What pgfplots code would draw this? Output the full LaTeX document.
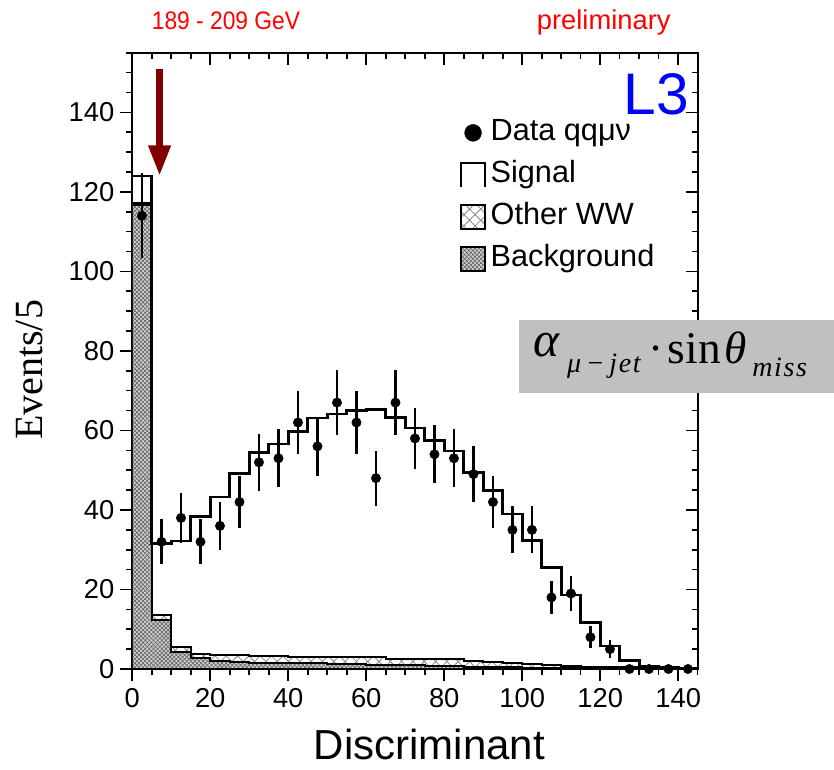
\documentclass[border=0pt]{standalone}
\usepackage{fontspec}
\setmainfont{Liberation Sans}
\newfontfamily\seriffont{Liberation Serif}
\newfontfamily\serifspaced[LetterSpace=6]{Liberation Serif}
\usepackage{pgfplots}
\pgfplotsset{compat=1.18}
\usepackage{pgfplotstable}
\usetikzlibrary{patterns.meta,arrows.meta}

\definecolor{darkred}{RGB}{128,0,0}
\definecolor{boxgray}{RGB}{192,192,192}

% stacked totals, bin left edges (width 5), last row closes the histogram
\pgfplotstableread{
x y
0 124
5 31.6
10 32.2
15 38.3
20 43.3
25 49.1
30 54.4
35 56.6
40 59.8
45 63.1
50 64.1
55 65.0
60 65.2
65 63.3
70 60.6
75 57.5
80 54.8
85 49.4
90 44.9
95 39.0
100 32.3
105 25.6
110 18.6
115 11.7
120 5.8
125 2.1
130 0.6
135 0.3
140 0.2
145 0.2
}\signaltab

\pgfplotstableread{
x y
0 117.3
5 13.6
10 5.5
15 3.9
20 3.4
25 3.4
30 3.2
35 3.2
40 2.9
45 2.9
50 2.9
55 2.9
60 3.0
65 2.5
70 2.5
75 2.5
80 2.5
85 1.9
90 1.8
95 1.6
100 1.3
105 1.0
110 0.8
115 0.6
120 0.5
125 0.4
130 0.3
135 0.2
140 0.2
145 0.2
}\otherwwtab

\pgfplotstableread{
x y
0 116.6
5 12.3
10 4.4
15 2.7
20 1.9
25 1.8
30 1.6
35 1.5
40 1.4
45 1.4
50 1.3
55 1.2
60 1.1
65 1.0
70 0.9
75 0.8
80 0.7
85 0.6
90 0.5
95 0.4
100 0.3
105 0.3
110 0.2
115 0.2
120 0.1
125 0.1
130 0.1
135 0.1
140 0.1
145 0.1
}\bgtab

\pgfplotstableread{
x y e
2.5 114 10.7
7.5 32 5.7
12.5 38 6.2
17.5 32 5.7
22.5 36 6.0
27.5 42 6.5
32.5 52 7.2
37.5 53 7.3
42.5 62 7.9
47.5 56 7.5
52.5 67 8.2
57.5 62 7.9
62.5 48 6.9
67.5 67 8.2
72.5 58 7.6
77.5 54 7.3
82.5 53 7.3
87.5 49 7.0
92.5 42 6.5
97.5 35 5.9
102.5 35 5.9
107.5 18 4.2
112.5 19 4.4
117.5 8 2.8
122.5 5 2.2
127.5 0 0
132.5 0 0
137.5 0 0
142.5 0 0
}\datatab

\tikzset{
  wwfill/.style={fill=white, postaction={pattern={Hatch[angle=45,distance=6pt,line width=0.6pt]}, pattern color=black!45}},
  bgfill/.style={fill=black!18, postaction={pattern={Hatch[angle=45,distance=2.2pt,line width=0.5pt]}, pattern color=black!60}},
  legpad/.style={draw=none, fill=none, inner sep=0pt, minimum size=0pt},
}

\pgfplotsset{
  common/.style={
    width=424.05pt, height=462.2pt, scale only axis,
    at={(0pt,0pt)}, anchor=south west,
    xmin=0, xmax=145, ymin=0, ymax=155,
    xtick={0,20,...,140}, ytick={0,20,...,140},
    minor xtick={0,5,...,145}, minor ytick={0,5,...,155},
    major tick length=9pt, minor tick length=4.5pt,
    axis line style={line width=1.5pt},
    tick style={line width=1.2pt, black},
  }
}

\begin{document}
\begin{tikzpicture}
\path[use as bounding box] (-99.2pt,-75pt) rectangle (526.3pt,501.75pt);

% top / right ticks (inside)
\begin{axis}[common, tick pos=right, tick align=inside,
  xticklabels={}, yticklabels={}]
\end{axis}

\begin{axis}[common, tick pos=left, tick align=outside,
  ticklabel style={font=\fontsize{20.5}{24}\selectfont},
  /pgf/number format/assume math mode=true,
  xticklabel style={yshift=-2pt},
  yticklabel style={xshift=-1pt},
  legend style={at={(axis cs:84,138.6)}, anchor=north west, draw=none, fill=none,
    font=\fontsize{23}{27}\selectfont, inner sep=0pt, row sep=9.5pt,
    nodes={inner sep=0pt, text height=17pt, text depth=5pt}},
  legend cell align=left,
]
\addlegendimage{legend image code/.code={\node[legpad] at (22pt,0pt) {}; \fill[black] (9pt,0pt) circle (6.3pt);}}
\addlegendentry{Data qqμν}
\addlegendimage{legend image code/.code={\node[legpad] at (22pt,0pt) {}; \draw[line width=1.5pt] (0pt,-9pt) -- (0pt,9pt) -- (18pt,9pt) -- (18pt,-9pt);}}
\addlegendentry{Signal}
\addlegendimage{legend image code/.code={\node[legpad] at (22pt,0pt) {}; \draw[line width=1.3pt, wwfill] (0pt,-9pt) rectangle (18pt,9pt);}}
\addlegendentry{Other WW}
\addlegendimage{legend image code/.code={\node[legpad] at (22pt,0pt) {}; \draw[line width=1.3pt, bgfill] (0pt,-9pt) rectangle (18pt,9pt);}}
\addlegendentry{Background}

\addplot[const plot, draw=black, line width=1.5pt, wwfill, forget plot] table {\otherwwtab} \closedcycle;
\addplot[const plot, draw=black, line width=1.5pt, bgfill, forget plot] table {\bgtab} \closedcycle;
\addplot[const plot, draw=black, line width=2pt, forget plot] table {\signaltab};
\addplot[only marks, mark=*, mark size=3.5pt, black, forget plot,
  error bars/.cd, y dir=both, y explicit, error mark=none,
  error bar style={line width=2pt}] table[x=x, y=y, y error=e] {\datatab};

\draw[darkred, line width=5.25pt, -{Triangle[length=23pt,width=15.75pt]}] (axis cs:7,151) -- (axis cs:7,124);
\end{axis}

% texts around the frame
\node[anchor=base, text=red, font=\fontsize{19}{19}\selectfont] at (70.3pt,479.25pt) {\scalebox{0.9}[1]{189 - 209 GeV}};
\node[anchor=base, text=red, font=\fontsize{20.5}{20}\selectfont] at (353.6pt,479.25pt) {preliminary};
\node[anchor=base, text=blue, font=\fontsize{44}{44}\selectfont, inner sep=0pt] at (392.8pt,415.5pt) {L3};
\node[anchor=base, font=\fontsize{31.5}{32}\selectfont, inner sep=0pt] at (222.75pt,-68pt) {Discriminant};
\node[anchor=base, rotate=90, font=\seriffont\fontsize{30}{30}\selectfont, inner sep=0pt] at (-67pt,224.25pt) {Events/5};

% formula box
\fill[boxgray] (290pt,207pt) rectangle (526.3pt,261.75pt);
\node[anchor=base west, inner sep=0pt] at (300.5pt,229.5pt) {\seriffont
  \raisebox{4.7pt}{\fontsize{37}{37}\selectfont\itshape α}\hspace{6pt}%
  \raisebox{-6.75pt}{\serifspaced\fontsize{21}{21}\selectfont\itshape μ\,−\,jet}\hspace{6pt}%
  {\fontsize{34}{34}\selectfont·\hspace{3pt}sin\hspace{3pt}\itshape θ}\hspace{4pt}%
  \raisebox{-10pt}{\serifspaced\fontsize{21}{21}\selectfont\itshape miss}};
\end{tikzpicture}
\end{document}
